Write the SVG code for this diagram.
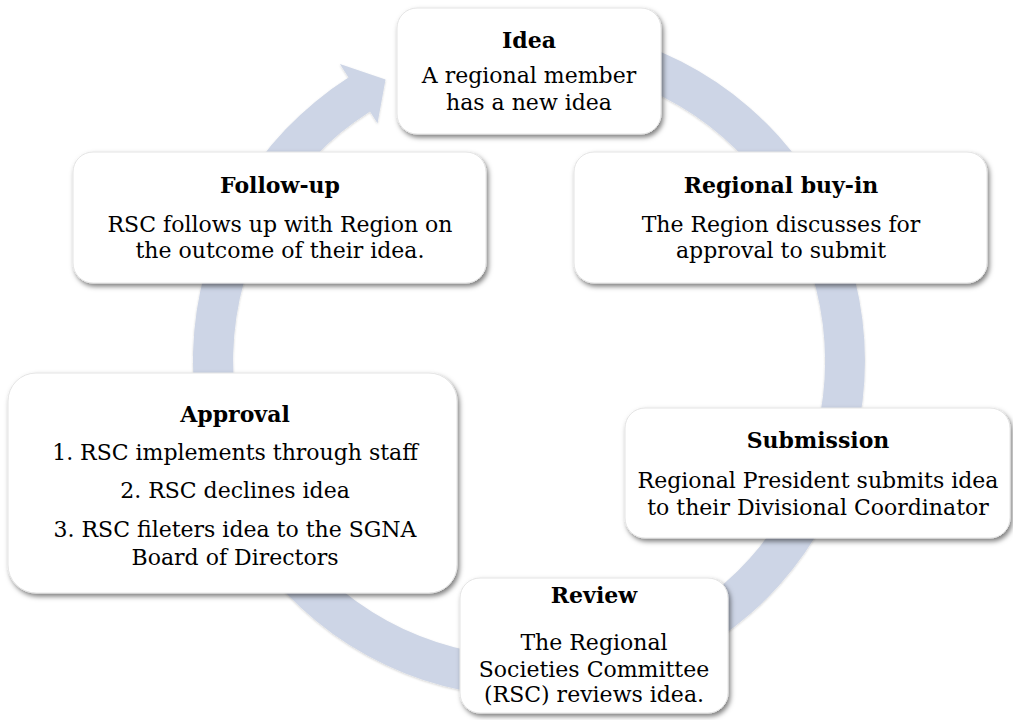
<svg xmlns="http://www.w3.org/2000/svg" width="1013" height="720" viewBox="0 0 1013 720">
<defs>
<filter id="shadow" x="-10%" y="-10%" width="125%" height="130%">
<feDropShadow dx="2" dy="3" stdDeviation="2.5" flood-color="#000" flood-opacity="0.5"/>
</filter>
<filter id="ringshadow" x="-5%" y="-5%" width="110%" height="110%">
<feDropShadow dx="0" dy="1" stdDeviation="1.2" flood-color="#000" flood-opacity="0.18"/>
</filter>
<style>
.box{fill:#ffffff;stroke:#e4e4e4;stroke-width:1;filter:url(#shadow)}
.t{font-family:"DejaVu Serif","Liberation Serif",serif;font-size:22px;fill:#000;text-anchor:middle}
.h{font-weight:bold}
.ring{fill:#cdd5e6;filter:url(#ringshadow)}
</style>
</defs>
<rect width="1013" height="720" fill="#ffffff"/>
<g id="connectors">
<path class="ring" d="M482.2,28.3 A336,336 0 1 1 348.5,77.6 L339.9,64.1 L385.5,79.4 L377.5,123.2 L370.0,111.4 A296,296 0 1 0 487.8,67.9 Z"/>
</g>
<g id="node-idea">
<rect class="box" x="397" y="8" width="264" height="126" rx="20"/>
<text class="t h" x="529" y="48">Idea</text>
<text class="t" x="529" y="83">A regional member</text>
<text class="t" x="529" y="110">has a new idea</text>
</g>
<g id="node-buyin">
<rect class="box" x="574" y="152" width="413" height="131" rx="20"/>
<text class="t h" x="781" y="193">Regional buy-in</text>
<text class="t" x="781" y="232">The Region discusses for</text>
<text class="t" x="781" y="258">approval to submit</text>
</g>
<g id="node-submission">
<rect class="box" x="625" y="408" width="385" height="130" rx="20"/>
<text class="t h" x="818" y="448">Submission</text>
<text class="t" x="818" y="488">Regional President submits idea</text>
<text class="t" x="818" y="515">to their Divisional Coordinator</text>
</g>
<g id="node-review">
<rect class="box" x="460" y="578" width="268" height="135" rx="20"/>
<text class="t h" x="594" y="603">Review</text>
<text class="t" x="594" y="650">The Regional</text>
<text class="t" x="594" y="677">Societies Committee</text>
<text class="t" x="594" y="702">(RSC) reviews idea.</text>
</g>
<g id="node-approval">
<rect class="box" x="8" y="373" width="449" height="220" rx="28"/>
<text class="t h" x="235" y="422">Approval</text>
<text class="t" x="235" y="460">1. RSC implements through staff</text>
<text class="t" x="235" y="498">2. RSC declines idea</text>
<text class="t" x="235" y="537">3. RSC fileters idea to the SGNA</text>
<text class="t" x="235" y="565">Board of Directors</text>
</g>
<g id="node-followup">
<rect class="box" x="73" y="152" width="413" height="131" rx="20"/>
<text class="t h" x="280" y="193">Follow-up</text>
<text class="t" x="280" y="232">RSC follows up with Region on</text>
<text class="t" x="280" y="258">the outcome of their idea.</text>
</g>
</svg>
